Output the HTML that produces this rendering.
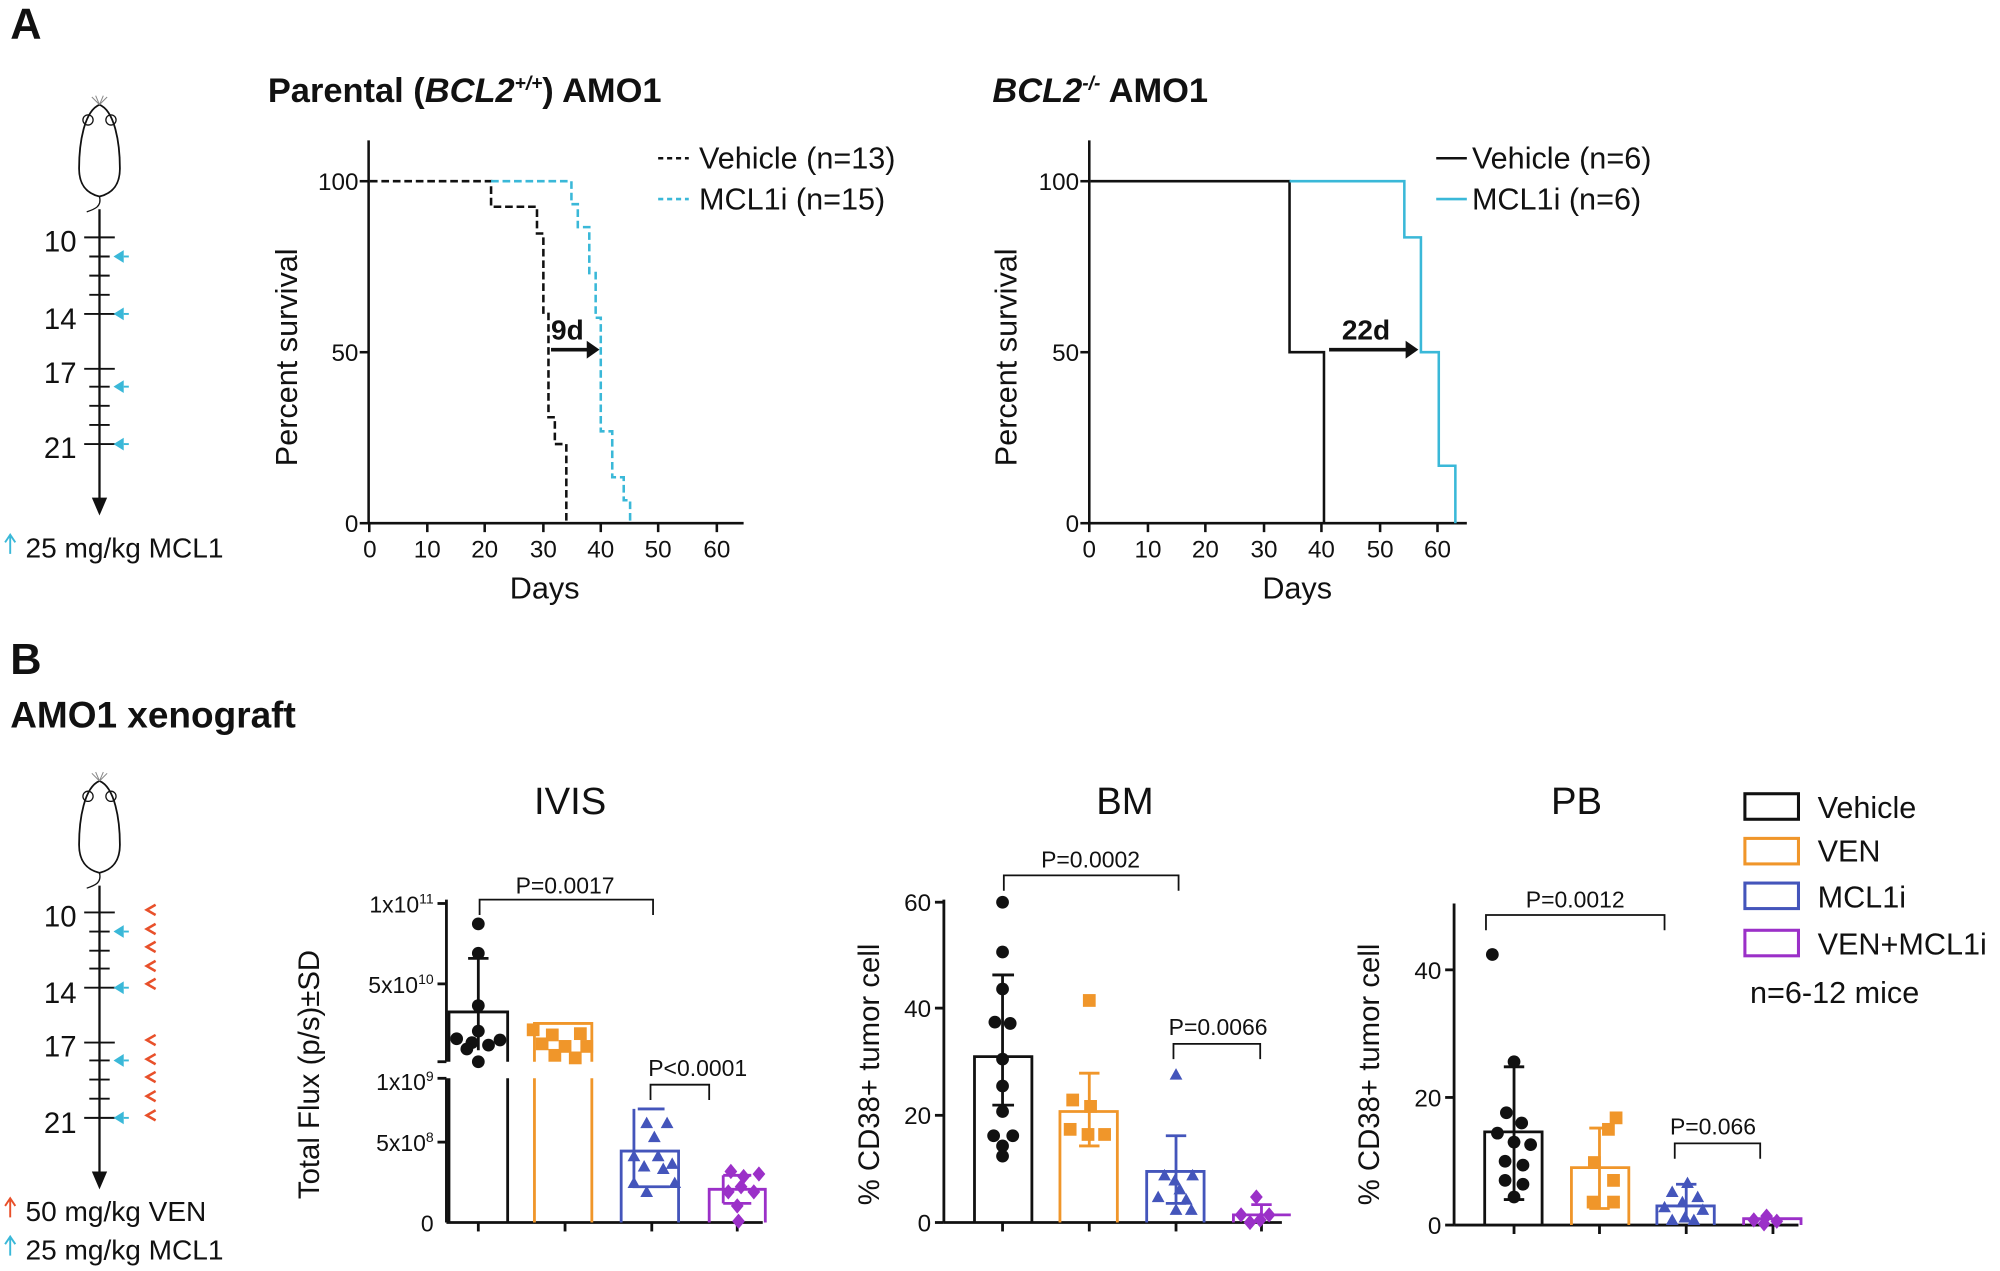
<!DOCTYPE html>
<html><head><meta charset="utf-8"><style>
html,body{margin:0;padding:0;background:#fff}
svg{display:block}
text{font-family:"Liberation Sans",Arial,sans-serif;fill:#111}
</style></head><body>
<svg width="2000" height="1271" viewBox="0 0 1568 996" preserveAspectRatio="none" xmlns="http://www.w3.org/2000/svg">
<defs>
<g id="mouse"><path d="M0,-30 C-12,-25 -16,0 -16,20 C-16,35 -8,40 0,42 C8,40 16,35 16,20 C16,0 12,-25 0,-30 Z" fill="none" stroke="#111" stroke-width="1.4"/>
<circle cx="-9" cy="-18" r="4" fill="none" stroke="#111"/><circle cx="9" cy="-18" r="4" fill="none" stroke="#111"/>
<path d="M0,42 C2,50 -4,52 -10,54" fill="none" stroke="#111"/>
<path d="M0,-30 L-6,-36 M0,-30 L6,-36 M0,-30 L-3,-37 M0,-30 L3,-37" stroke="#888" stroke-width="0.8"/></g>
</defs>
<!-- Panel A -->
<text x="8" y="30" font-size="34" font-weight="bold">A</text>
<use href="#mouse" x="78" y="112"/>
<line x1="78" y1="164" x2="78" y2="395" stroke="#111" stroke-width="1.8"/>
<path d="M72,390 L78,404 L84,390 Z" fill="#111"/>
<g stroke="#111" stroke-width="1.5">
<line x1="66" y1="186" x2="90" y2="186"/><line x1="70" y1="201" x2="86" y2="201"/><line x1="70" y1="216" x2="86" y2="216"/><line x1="70" y1="231" x2="86" y2="231"/><line x1="66" y1="246" x2="90" y2="246"/><line x1="66" y1="289" x2="90" y2="289"/><line x1="70" y1="303" x2="86" y2="303"/><line x1="70" y1="318" x2="86" y2="318"/><line x1="70" y1="333" x2="86" y2="333"/><line x1="66" y1="348" x2="90" y2="348"/>
</g>
<g font-size="23" text-anchor="end"><text x="60" y="197">10</text><text x="60" y="258">14</text><text x="60" y="300">17</text><text x="60" y="359">21</text></g>
<g fill="#3ab8d8"><path d="M89,201 l8,-5 v10z"/><path d="M89,246 l8,-5 v10z"/><path d="M89,303 l8,-5 v10z"/><path d="M89,348 l8,-5 v10z"/></g>
<g stroke="#3ab8d8" stroke-width="1.5"><line x1="97" y1="201" x2="101" y2="201"/><line x1="97" y1="246" x2="101" y2="246"/><line x1="97" y1="303" x2="101" y2="303"/><line x1="97" y1="348" x2="101" y2="348"/></g>
<path d="M8,420 v14 M4,425 l4,-6 l4,6" stroke="#3ab8d8" fill="none" stroke-width="1.5"/>
<text x="20" y="437" font-size="22">25 mg/kg MCL1</text>

<text x="210" y="80" font-size="27" font-weight="bold">Parental (<tspan font-style="italic">BCL2</tspan><tspan font-size="15" dy="-10" font-style="italic">+/+</tspan><tspan dy="10">) AMO1</tspan></text>
<g stroke="#111" stroke-width="2" fill="none">
<line x1="289" y1="110" x2="289" y2="410"/><line x1="289" y1="410" x2="583" y2="410"/>
<line x1="282" y1="142" x2="289" y2="142"/><line x1="282" y1="276" x2="289" y2="276"/><line x1="282" y1="410" x2="289" y2="410"/>
<line x1="289.5" y1="410" x2="289.5" y2="417"/><line x1="335" y1="410" x2="335" y2="417"/><line x1="380" y1="410" x2="380" y2="417"/><line x1="426" y1="410" x2="426" y2="417"/><line x1="471" y1="410" x2="471" y2="417"/><line x1="516" y1="410" x2="516" y2="417"/><line x1="562" y1="410" x2="562" y2="417"/>
</g>
<g font-size="19" text-anchor="end"><text x="281" y="149">100</text><text x="281" y="283">50</text><text x="281" y="417">0</text></g>
<g font-size="19" text-anchor="middle"><text x="290" y="437">0</text><text x="335" y="437">10</text><text x="380" y="437">20</text><text x="426" y="437">30</text><text x="471" y="437">40</text><text x="516" y="437">50</text><text x="562" y="437">60</text></g>
<text x="427" y="469" font-size="24" text-anchor="middle">Days</text>
<text transform="translate(233,280) rotate(-90)" font-size="24" text-anchor="middle">Percent survival</text>
<path d="M290,142 H385 V162 H421 V183 H426 V245 H430 V327 H435 V348 H444 V410" stroke="#111" stroke-width="2" fill="none" stroke-dasharray="6,3"/>
<path d="M385,142 H448 V160 H453 V178 H462 V214 H467 V249 H471 V338 H480 V374 H489 V392 H494 V410" stroke="#3ab8d8" stroke-width="2" fill="none" stroke-dasharray="6,3"/>
<text x="432" y="266" font-size="22" font-weight="bold">9d</text>
<line x1="432" y1="274" x2="462" y2="274" stroke="#111" stroke-width="2.8"/><path d="M460,267 l10,7 l-10,7z" fill="#111"/>
<line x1="516" y1="124" x2="540" y2="124" stroke="#111" stroke-width="2" stroke-dasharray="4,3"/>
<text x="548" y="132" font-size="24">Vehicle (n=13)</text>
<line x1="516" y1="156" x2="540" y2="156" stroke="#3ab8d8" stroke-width="2" stroke-dasharray="4,3"/>
<text x="548" y="164" font-size="24">MCL1i (n=15)</text>

<text x="778" y="80" font-size="27" font-weight="bold"><tspan font-style="italic">BCL2</tspan><tspan font-size="15" dy="-10" font-style="italic">-/-</tspan><tspan dy="10"> AMO1</tspan></text>
<g stroke="#111" stroke-width="2" fill="none">
<line x1="854" y1="110" x2="854" y2="410"/><line x1="854" y1="410" x2="1150" y2="410"/>
<line x1="847" y1="142" x2="854" y2="142"/><line x1="847" y1="276" x2="854" y2="276"/><line x1="847" y1="410" x2="854" y2="410"/>
<line x1="854" y1="410" x2="854" y2="417"/><line x1="900" y1="410" x2="900" y2="417"/><line x1="945" y1="410" x2="945" y2="417"/><line x1="991" y1="410" x2="991" y2="417"/><line x1="1036" y1="410" x2="1036" y2="417"/><line x1="1082" y1="410" x2="1082" y2="417"/><line x1="1127" y1="410" x2="1127" y2="417"/>
</g>
<g font-size="19" text-anchor="end"><text x="846" y="149">100</text><text x="846" y="283">50</text><text x="846" y="417">0</text></g>
<g font-size="19" text-anchor="middle"><text x="854" y="437">0</text><text x="900" y="437">10</text><text x="945" y="437">20</text><text x="991" y="437">30</text><text x="1036" y="437">40</text><text x="1082" y="437">50</text><text x="1127" y="437">60</text></g>
<text x="1017" y="469" font-size="24" text-anchor="middle">Days</text>
<text transform="translate(797,280) rotate(-90)" font-size="24" text-anchor="middle">Percent survival</text>
<path d="M855,142 H1011 V276 H1038 V410" stroke="#111" stroke-width="2" fill="none"/>
<path d="M1011,142 H1101 V186 H1114 V276 H1128 V365 H1141 V410" stroke="#3ab8d8" stroke-width="2" fill="none"/>
<text x="1052" y="266" font-size="22" font-weight="bold">22d</text>
<line x1="1042" y1="274" x2="1104" y2="274" stroke="#111" stroke-width="2.8"/><path d="M1102,267 l10,7 l-10,7z" fill="#111"/>
<line x1="1126" y1="124" x2="1150" y2="124" stroke="#111" stroke-width="2"/>
<text x="1154" y="132" font-size="24">Vehicle (n=6)</text>
<line x1="1126" y1="156" x2="1150" y2="156" stroke="#3ab8d8" stroke-width="2"/>
<text x="1154" y="164" font-size="24">MCL1i (n=6)</text>

<!-- Panel B -->
<text x="8" y="528" font-size="34" font-weight="bold">B</text>
<text x="8" y="570" font-size="29" font-weight="bold">AMO1 xenograft</text>
<use href="#mouse" x="78" y="642"/>
<line x1="78" y1="694" x2="78" y2="922" stroke="#111" stroke-width="1.8"/>
<path d="M72,918 L78,932 L84,918 Z" fill="#111"/>
<g stroke="#111" stroke-width="1.5">
<line x1="66" y1="715" x2="90" y2="715"/><line x1="70" y1="730" x2="86" y2="730"/><line x1="70" y1="745" x2="86" y2="745"/><line x1="70" y1="759" x2="86" y2="759"/><line x1="66" y1="774" x2="90" y2="774"/><line x1="66" y1="817" x2="90" y2="817"/><line x1="70" y1="831" x2="86" y2="831"/><line x1="70" y1="846" x2="86" y2="846"/><line x1="70" y1="861" x2="86" y2="861"/><line x1="66" y1="876" x2="90" y2="876"/>
</g>
<g font-size="23" text-anchor="end"><text x="60" y="726">10</text><text x="60" y="786">14</text><text x="60" y="828">17</text><text x="60" y="888">21</text></g>
<g fill="#3ab8d8"><path d="M89,730 l8,-5 v10z"/><path d="M89,774 l8,-5 v10z"/><path d="M89,831 l8,-5 v10z"/><path d="M89,876 l8,-5 v10z"/></g>
<g stroke="#3ab8d8" stroke-width="1.5"><line x1="97" y1="730" x2="101" y2="730"/><line x1="97" y1="774" x2="101" y2="774"/><line x1="97" y1="831" x2="101" y2="831"/><line x1="97" y1="876" x2="101" y2="876"/></g>
<g stroke="#e8502a" stroke-width="2" fill="none">
<path d="M122,709 l-7,4 l7,4"/><path d="M122,724 l-7,4 l7,4"/><path d="M122,738 l-7,4 l7,4"/><path d="M122,753 l-7,4 l7,4"/><path d="M122,767 l-7,4 l7,4"/>
<path d="M122,811 l-7,4 l7,4"/><path d="M122,826 l-7,4 l7,4"/><path d="M122,840 l-7,4 l7,4"/><path d="M122,855 l-7,4 l7,4"/><path d="M122,870 l-7,4 l7,4"/>
</g>
<path d="M8,940 v14 M4,945 l4,-6 l4,6" stroke="#e8502a" fill="none" stroke-width="1.5"/>
<text x="20" y="957" font-size="22">50 mg/kg VEN</text>
<path d="M8,970 v14 M4,975 l4,-6 l4,6" stroke="#3ab8d8" fill="none" stroke-width="1.5"/>
<text x="20" y="987" font-size="22">25 mg/kg MCL1</text>

<!-- IVIS -->
<text x="447" y="638" font-size="30" text-anchor="middle">IVIS</text>
<text transform="translate(250,842) rotate(-90)" font-size="23" text-anchor="middle">Total Flux (p/s)±SD</text>
<g stroke="#111" stroke-width="2.2" fill="none">
<line x1="350" y1="705" x2="350" y2="832"/><line x1="343" y1="832" x2="350" y2="832"/>
<line x1="350" y1="845" x2="350" y2="958"/><line x1="343" y1="845" x2="350" y2="845"/>
<line x1="343" y1="708" x2="350" y2="708"/><line x1="343" y1="771" x2="350" y2="771"/><line x1="343" y1="895" x2="350" y2="895"/>
<line x1="350" y1="958" x2="598" y2="958"/>
<line x1="375" y1="958" x2="375" y2="965"/><line x1="443" y1="958" x2="443" y2="965"/><line x1="511" y1="958" x2="511" y2="965"/><line x1="578" y1="958" x2="578" y2="965"/>
</g>
<g font-size="18" text-anchor="end"><text x="340" y="715">1x10<tspan font-size="11" dy="-7">11</tspan></text><text x="340" y="778">5x10<tspan font-size="11" dy="-7">10</tspan></text><text x="340" y="854">1x10<tspan font-size="11" dy="-7">9</tspan></text><text x="340" y="902">5x10<tspan font-size="11" dy="-7">8</tspan></text><text x="340" y="965">0</text></g>
<g fill="none" stroke-width="2.2">
<path d="M352,832 V793 H398 V832 M352,845 V958 M398,845 V958" stroke="#111"/>
<path d="M419,832 V802 H464 V832 M419,845 V958 M464,845 V958" stroke="#f0962a"/>
<path d="M487,958 V902 H532 V958" stroke="#4455bb"/>
<path d="M556,958 V932 H600 V958" stroke="#9b30c8"/>
<path d="M375,823 V751 M367,751 H383" stroke="#111"/>
<path d="M497,869 V930 H525 M500,869 H521" stroke="#4455bb"/>
<path d="M567,921 V943 M567,921 H589 M567,943 H589" stroke="#9b30c8"/>
</g>
<g fill="#111"><circle cx="375" cy="724" r="5"/><circle cx="375" cy="747" r="5"/><circle cx="375" cy="788" r="5"/><circle cx="375" cy="808" r="5"/><circle cx="358" cy="814" r="5"/><circle cx="370" cy="817" r="5"/><circle cx="383" cy="819" r="5"/><circle cx="392" cy="815" r="5"/><circle cx="366" cy="822" r="5"/><circle cx="375" cy="832" r="5"/></g>
<g fill="#f0962a"><rect x="413" y="802" width="10" height="10"/><rect x="428" y="806" width="10" height="10"/><rect x="450" y="805" width="10" height="10"/><rect x="420" y="813" width="10" height="10"/><rect x="438" y="815" width="10" height="10"/><rect x="455" y="815" width="10" height="10"/><rect x="430" y="822" width="10" height="10"/><rect x="446" y="824" width="10" height="10"/></g>
<g fill="#4455bb"><path d="M502,884 l5,-9 l5,9z M518,884 l5,-9 l5,9z M508,895 l5,-9 l5,9z M492,910 l5,-9 l5,9z M511,910 l5,-9 l5,9z M522,916 l5,-9 l5,9z M500,918 l5,-9 l5,9z M515,920 l5,-9 l5,9z M492,931 l5,-9 l5,9z M524,931 l5,-9 l5,9z M502,938 l5,-9 l5,9z"/></g>
<g fill="#9b30c8"><path d="M568,918 l5,-6 l5,6 l-5,6z M578,922 l5,-6 l5,6 l-5,6z M590,920 l5,-6 l5,6 l-5,6z M566,934 l5,-6 l5,6 l-5,6z M576,930 l5,-6 l5,6 l-5,6z M586,934 l5,-6 l5,6 l-5,6z M573,945 l5,-6 l5,6 l-5,6z M574,957 l5,-6 l5,6 l-5,6z"/></g>
<path d="M376,717 V705 H512 V717" stroke="#111" stroke-width="1.4" fill="none"/>
<text x="443" y="700" font-size="18" text-anchor="middle">P=0.0017</text>
<path d="M510,862 V850 H556 V862" stroke="#111" stroke-width="1.4" fill="none"/>
<text x="547" y="843" font-size="18" text-anchor="middle">P&lt;0.0001</text>

<!-- BM -->
<text x="882" y="638" font-size="30" text-anchor="middle">BM</text>
<text transform="translate(689,842) rotate(-90)" font-size="23" text-anchor="middle">% CD38+ tumor cell</text>
<g stroke="#111" stroke-width="2.2" fill="none">
<line x1="740" y1="705" x2="740" y2="958"/><line x1="740" y1="958" x2="1005" y2="958"/>
<line x1="733" y1="707" x2="740" y2="707"/><line x1="733" y1="790" x2="740" y2="790"/><line x1="733" y1="874" x2="740" y2="874"/><line x1="733" y1="958" x2="740" y2="958"/>
<line x1="786" y1="958" x2="786" y2="965"/><line x1="854" y1="958" x2="854" y2="965"/><line x1="922" y1="958" x2="922" y2="965"/><line x1="989" y1="958" x2="989" y2="965"/>
</g>
<g font-size="19" text-anchor="end"><text x="730" y="714">60</text><text x="730" y="797">40</text><text x="730" y="881">20</text><text x="730" y="965">0</text></g>
<g fill="none" stroke-width="2.2">
<path d="M764,958 V828 H809 V958 M786,866 V764 M778,764 H795 M778,866 H795" stroke="#111"/>
<path d="M831,958 V871 H876 V958 M854,898 V841 M846,841 H862 M846,898 H862" stroke="#f0962a"/>
<path d="M899,958 V918 H944 V958 M922,943 V890 M914,890 H930 M914,943 H930" stroke="#4455bb"/>
<path d="M967,958 V952 H1012 M989,952 V944 M981,944 H997" stroke="#9b30c8"/>
</g>
<g fill="#111"><circle cx="786" cy="707" r="5"/><circle cx="786" cy="746" r="5"/><circle cx="786" cy="775" r="5"/><circle cx="780" cy="801" r="5"/><circle cx="792" cy="802" r="5"/><circle cx="786" cy="830" r="5"/><circle cx="786" cy="851" r="5"/><circle cx="786" cy="871" r="5"/><circle cx="779" cy="890" r="5"/><circle cx="794" cy="890" r="5"/><circle cx="786" cy="898" r="5"/><circle cx="786" cy="906" r="5"/></g>
<g fill="#f0962a"><rect x="849" y="779" width="10" height="10"/><rect x="836" y="857" width="10" height="10"/><rect x="850" y="862" width="10" height="10"/><rect x="834" y="880" width="10" height="10"/><rect x="848" y="884" width="10" height="10"/><rect x="861" y="884" width="10" height="10"/></g>
<g fill="#4455bb"><path d="M917,846 l5,-9 l5,9z M908,925 l5,-9 l5,9z M930,925 l5,-9 l5,9z M916,929 l5,-9 l5,9z M920,936 l5,-9 l5,9z M903,942 l5,-9 l5,9z M925,944 l5,-9 l5,9z M917,952 l5,-9 l5,9z M929,952 l5,-9 l5,9z"/></g>
<g fill="#9b30c8"><path d="M980,938 l5,-6 l5,6 l-5,6z M968,952 l5,-6 l5,6 l-5,6z M983,956 l5,-6 l5,6 l-5,6z M990,952 l5,-6 l5,6 l-5,6z M975,958 l5,-6 l5,6 l-5,6z"/></g>
<path d="M787,698 V686 H924 V698" stroke="#111" stroke-width="1.4" fill="none"/>
<text x="855" y="680" font-size="18" text-anchor="middle">P=0.0002</text>
<path d="M920,830 V818 H988 V830" stroke="#111" stroke-width="1.4" fill="none"/>
<text x="955" y="811" font-size="18" text-anchor="middle">P=0.0066</text>

<!-- PB -->
<text x="1236" y="638" font-size="30" text-anchor="middle">PB</text>
<text transform="translate(1081,842) rotate(-90)" font-size="23" text-anchor="middle">% CD38+ tumor cell</text>
<g stroke="#111" stroke-width="2.2" fill="none">
<line x1="1140" y1="708" x2="1140" y2="960"/><line x1="1140" y1="960" x2="1410" y2="960"/>
<line x1="1133" y1="760" x2="1140" y2="760"/><line x1="1133" y1="860" x2="1140" y2="860"/><line x1="1133" y1="960" x2="1140" y2="960"/>
<line x1="1187" y1="960" x2="1187" y2="967"/><line x1="1254" y1="960" x2="1254" y2="967"/><line x1="1322" y1="960" x2="1322" y2="967"/><line x1="1390" y1="960" x2="1390" y2="967"/>
</g>
<g font-size="19" text-anchor="end"><text x="1130" y="767">40</text><text x="1130" y="867">20</text><text x="1130" y="967">0</text></g>
<g fill="none" stroke-width="2.2">
<path d="M1164,960 V887 H1209 V960 M1187,940 V836 M1179,836 H1195 M1179,940 H1195" stroke="#111"/>
<path d="M1232,960 V915 H1277 V960 M1254,947 V884 M1246,884 H1262 M1246,947 H1262" stroke="#f0962a"/>
<path d="M1299,960 V945 H1344 V960 M1322,955 V928 M1314,928 H1330" stroke="#4455bb"/>
<path d="M1367,960 V955 H1412 V960" stroke="#9b30c8"/>
</g>
<g fill="#111"><circle cx="1170" cy="748" r="5"/><circle cx="1187" cy="832" r="5"/><circle cx="1181" cy="872" r="5"/><circle cx="1193" cy="880" r="5"/><circle cx="1174" cy="888" r="5"/><circle cx="1187" cy="895" r="5"/><circle cx="1200" cy="897" r="5"/><circle cx="1180" cy="910" r="5"/><circle cx="1194" cy="913" r="5"/><circle cx="1180" cy="925" r="5"/><circle cx="1194" cy="928" r="5"/><circle cx="1187" cy="938" r="5"/></g>
<g fill="#f0962a"><rect x="1262" y="871" width="10" height="10"/><rect x="1256" y="880" width="10" height="10"/><rect x="1245" y="906" width="10" height="10"/><rect x="1260" y="920" width="10" height="10"/><rect x="1244" y="937" width="10" height="10"/><rect x="1260" y="937" width="10" height="10"/></g>
<g fill="#4455bb"><path d="M1318,931 l5,-9 l5,9z M1306,938 l5,-9 l5,9z M1326,942 l5,-9 l5,9z M1314,946 l5,-9 l5,9z M1300,950 l5,-9 l5,9z M1330,952 l5,-9 l5,9z M1316,958 l5,-9 l5,9z M1306,960 l5,-9 l5,9z M1323,960 l5,-9 l5,9z"/></g>
<g fill="#9b30c8"><path d="M1380,953 l5,-6 l5,6 l-5,6z M1370,956 l5,-6 l5,6 l-5,6z M1388,957 l5,-6 l5,6 l-5,6z M1378,959 l5,-6 l5,6 l-5,6z"/></g>
<path d="M1165,729 V717 H1305 V729" stroke="#111" stroke-width="1.4" fill="none"/>
<text x="1235" y="711" font-size="18" text-anchor="middle">P=0.0012</text>
<path d="M1313,908 V896 H1380 V908" stroke="#111" stroke-width="1.4" fill="none"/>
<text x="1343" y="889" font-size="18" text-anchor="middle">P=0.066</text>

<!-- legend -->
<g fill="none" stroke-width="2.4">
<rect x="1368" y="622" width="42" height="20" stroke="#111"/>
<rect x="1368" y="657" width="42" height="20" stroke="#f0962a"/>
<rect x="1368" y="692" width="42" height="20" stroke="#4455bb"/>
<rect x="1368" y="729" width="42" height="20" stroke="#9b30c8"/>
</g>
<g font-size="24"><text x="1425" y="641">Vehicle</text><text x="1425" y="675">VEN</text><text x="1425" y="711">MCL1i</text><text x="1425" y="748">VEN+MCL1i</text><text x="1372" y="786">n=6-12 mice</text></g>
</svg>
</body></html>
